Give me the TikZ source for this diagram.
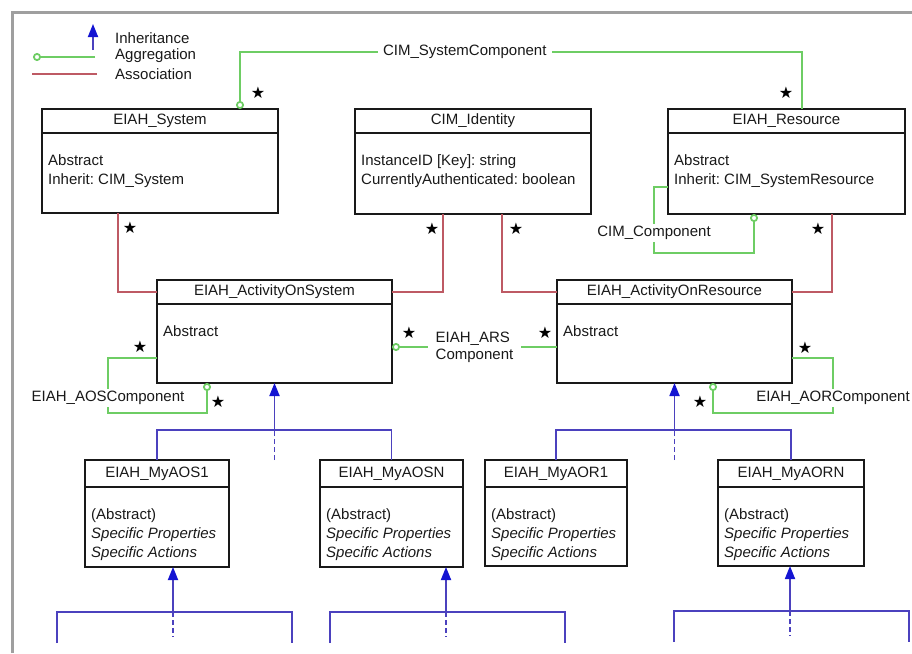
\documentclass[tikz,border=0pt]{standalone}
\usepackage{fontspec}
\setmainfont{Liberation Sans}
\newfontfamily\starfont{DejaVu Sans}
\usetikzlibrary{calc, arrows.meta}
\frenchspacing

\definecolor{aggrgreen}{RGB}{110,205,100}
\definecolor{assocred}{RGB}{190,90,100}
\definecolor{inhblue}{RGB}{75,65,190}
\definecolor{tipblue}{RGB}{20,20,210}

\tikzset{
  classbox/.style={draw=black!90, line width=1.8pt, inner sep=0pt, outer sep=0pt, anchor=north west},
  classtitle/.style={inner sep=0pt},
  classbody/.style={anchor=north west, align=left, inner sep=0pt},
  aggr/.style={draw=aggrgreen, line width=1.8pt, -{Circle[fill=white, length=8pt, width=8pt]}},
  assoc/.style={draw=assocred, line width=1.8pt},
  inh/.style={draw=inhblue, line width=1.8pt, -{Triangle[length=13pt, width=10pt, color=tipblue]}},
  inhline/.style={draw=inhblue, line width=1.8pt},
  inhdash/.style={inhline, dash pattern=on 5pt off 3pt},
  mult/.style={font=\starfont\fontsize{16}{16}\selectfont, inner sep=0pt, text=black},
  lbl/.style={fill=white, inner xsep=5pt, inner ysep=2pt},
  legtxt/.style={anchor=west, inner sep=0pt}
}

% name, x, y, width, height, header height, title, body
\newcommand{\umlclass}[8]{%
  \node[classbox, minimum width=#4, minimum height=#5] (#1) at (#2,#3) {};
  \draw[line width=1.6pt, black!90] ([yshift=-#6]#1.north west) -- ([yshift=-#6]#1.north east);
  \node[classtitle] (#1-title) at ([yshift=-0.5*#6]#1.north) {#7};
  \node[classbody] (#1-body) at ([xshift=6pt, yshift=-#6-21pt]#1.north west) {#8};
}

\begin{document}
\begin{tikzpicture}[x=1pt, y=-1pt, font=\fontsize{15}{19}\selectfont, text=black!90]
  \useasboundingbox (0,0) rectangle (912,653);
  \draw[gray!75, line width=3pt] (12,653) -- (12,12) -- (912,12);

  % legend
  \node[legtxt] (leg-inh) at (115,38) {Inheritance};
  \node[legtxt] (leg-aggr) at (115,56) {Aggregation};
  \node[legtxt] (leg-assoc) at (115,74) {Association};
  \draw[inh] ([xshift=-22pt, yshift=-12pt]leg-inh.west) -- ([xshift=-22pt, yshift=14pt]leg-inh.west);
  \draw[aggr] ([xshift=-20pt, yshift=-1pt]leg-aggr.west) -- ([xshift=-82pt, yshift=-1pt]leg-aggr.west);
  \draw[assoc] ([xshift=-18pt]leg-assoc.west) -- ([xshift=-83pt]leg-assoc.west);

  % classes
  \umlclass{sys}{42}{109}{236pt}{104pt}{24pt}{EIAH\_System}{Abstract\\Inherit: CIM\_System}
  \umlclass{ident}{355}{109}{236pt}{105pt}{24pt}{CIM\_Identity}{InstanceID [Key]: string\\CurrentlyAuthenticated: boolean}
  \umlclass{res}{668}{109}{237pt}{105pt}{24pt}{EIAH\_Resource}{Abstract\\Inherit: CIM\_SystemResource}
  \umlclass{aos}{157}{280}{235pt}{103pt}{24pt}{EIAH\_ActivityOnSystem}{Abstract}
  \umlclass{aor}{557}{280}{235pt}{103pt}{24pt}{EIAH\_ActivityOnResource}{Abstract}
  \umlclass{my1}{85}{460}{144pt}{107pt}{27pt}{EIAH\_MyAOS1}{(Abstract)\\\textit{Specific Properties}\\\textit{Specific Actions}}
  \umlclass{myn}{320}{460}{143pt}{107pt}{27pt}{EIAH\_MyAOSN}{(Abstract)\\\textit{Specific Properties}\\\textit{Specific Actions}}
  \umlclass{mr1}{485}{460}{142pt}{106pt}{27pt}{EIAH\_MyAOR1}{(Abstract)\\\textit{Specific Properties}\\\textit{Specific Actions}}
  \umlclass{mrn}{718}{460}{146pt}{106pt}{27pt}{EIAH\_MyAORN}{(Abstract)\\\textit{Specific Properties}\\\textit{Specific Actions}}

  % aggregations
  \draw[aggr] ([xshift=134pt]res.north west) node[mult, xshift=-16pt, yshift=16pt] {★}
    -- ++(0,-57) -| node[lbl, pos=0.3] {CIM\_SystemComponent}
    ([xshift=198pt]sys.north west) node[mult, xshift=18pt, yshift=16pt] {★};
  \draw[aggr] ([yshift=-78pt]res.north west) -- ++(-14,0)
    -- node[lbl, pos=0.7] {CIM\_Component} ++(0,66) -| ([xshift=86pt]res.south west);
  \draw[aggr] ([yshift=-67pt]aor.north west) node[mult, xshift=-12pt, yshift=14pt] {★}
    -- node[lbl, align=left, inner xsep=8pt, font=\fontsize{15}{17}\selectfont] {EIAH\_ARS\\Component}
    ([yshift=-67pt]aos.north east) node[mult, xshift=17pt, yshift=14pt] {★};
  \draw[aggr] ([yshift=-78pt]aos.north west) node[mult, xshift=-17pt, yshift=11pt] {★} -- ++(-49,0)
    -- node[lbl, pos=0.73] {EIAH\_AOSComponent} ++(0,55)
    -| ([xshift=50pt]aos.south west) node[mult, xshift=11pt, yshift=-19pt] {★};
  \draw[aggr] ([yshift=-78pt]aor.north east) node[mult, xshift=13pt, yshift=10pt] {★} -- ++(41,0)
    -- node[lbl, pos=0.73] {EIAH\_AORComponent} ++(0,55)
    -| ([xshift=156pt]aor.south west) node[mult, xshift=-13pt, yshift=-19pt] {★};

  % associations
  \draw[assoc] ([xshift=76pt]sys.south west) node[mult, xshift=12pt, yshift=-15pt] {★} |- ([yshift=-12pt]aos.north west);
  \draw[assoc] ([xshift=88pt]ident.south west) node[mult, xshift=-11pt, yshift=-15pt] {★} |- ([yshift=-12pt]aos.north east);
  \draw[assoc] ([xshift=147pt]ident.south west) node[mult, xshift=14pt, yshift=-15pt] {★} |- ([yshift=-12pt]aor.north west);
  \draw[assoc] ([xshift=164pt]res.south west) node[mult, xshift=-14pt, yshift=-15pt] {★} |- ([yshift=-12pt]aor.north east);

  % inheritance
  \draw[inhline] (my1.north) -- ++(0,-30) -| (myn.north);
  \draw[inh] ($(aos.south |- my1.north)+(0,-30)$) -- (aos.south);
  \draw[inhdash] (aos.south |- my1.north) -- ++(0,-30);
  \draw[inhline] (mr1.north) -- ++(0,-30) -| (mrn.north);
  \draw[inh] ($(aor.south |- mr1.north)+(0,-30)$) -- (aor.south);
  \draw[inhdash] (aor.south |- mr1.north) -- ++(0,-30);

  \foreach \b/\dx in {my1/88, myn/126, mrn/72}{
    \draw[inh] ([xshift=\dx pt, yshift=-45pt]\b.south west) coordinate (\b-bus) -- ([xshift=\dx pt]\b.south west);
    \draw[inhline] ([xshift=-116pt, yshift=-31pt]\b-bus) -- ([xshift=-116pt]\b-bus)
      -- ([xshift=119pt]\b-bus) -- ([xshift=119pt, yshift=-31pt]\b-bus);
    \draw[inhdash] (\b-bus) -- ++(0,25);
  }
\end{tikzpicture}
\end{document}
